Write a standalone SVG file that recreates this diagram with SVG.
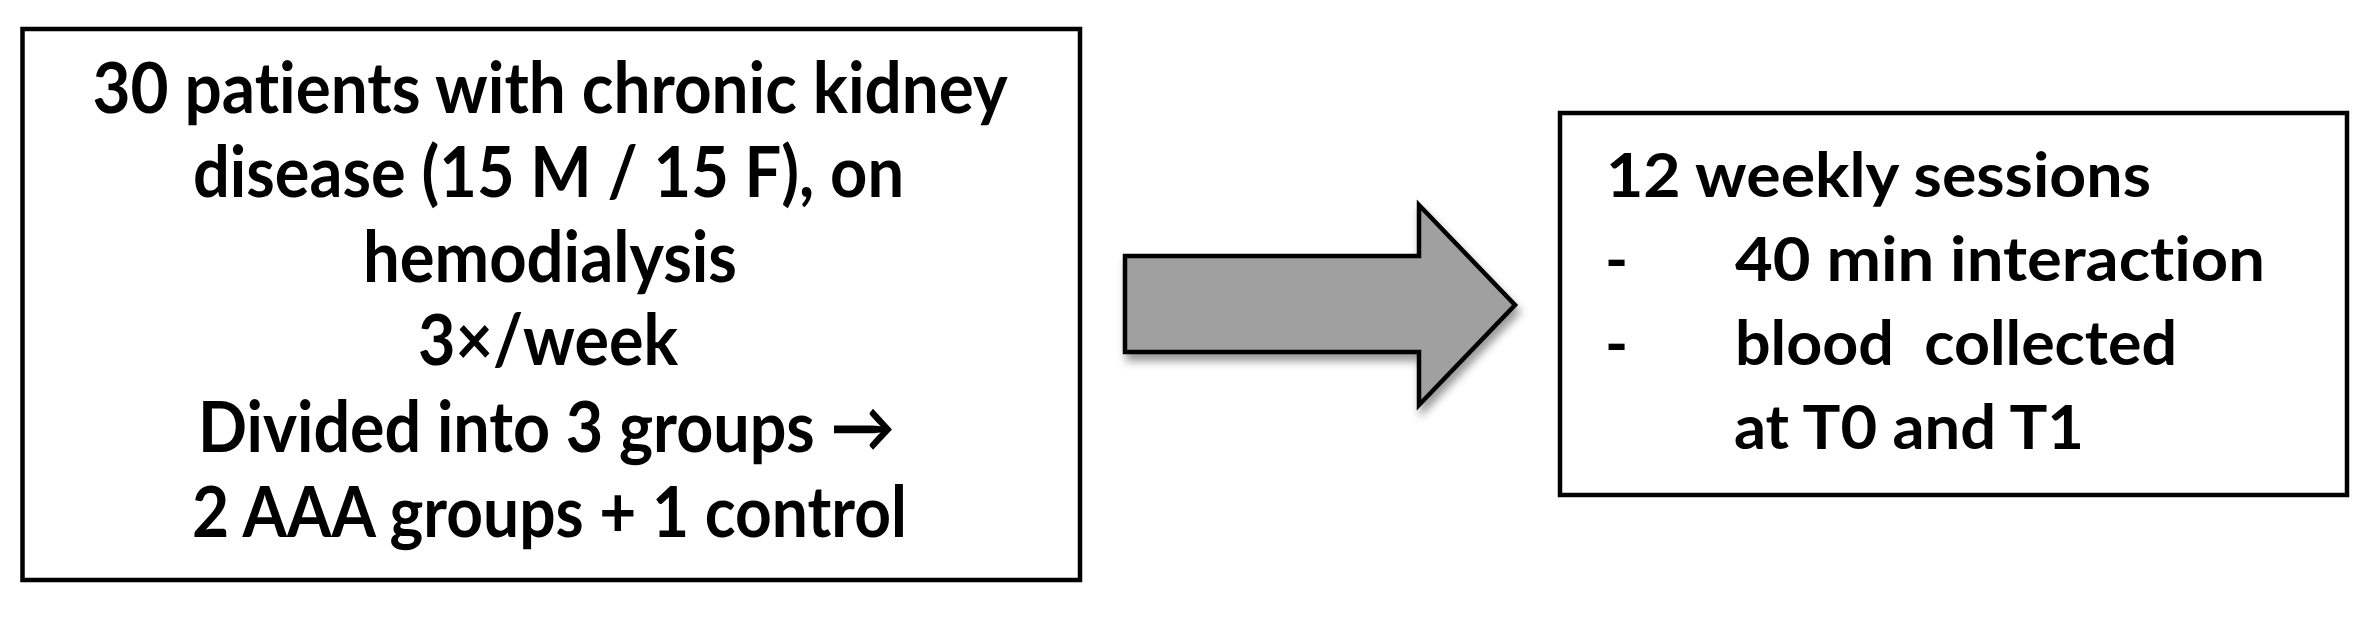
<svg xmlns="http://www.w3.org/2000/svg" width="2367" height="625" viewBox="0 0 2367 625">
<style>
.box{fill:#ffffff;stroke:#000000;stroke-width:4.5}
.t{font-family:Lato,"Open Sans","Liberation Sans",sans-serif;font-weight:bold;fill:#000000;font-variant-ligatures:none;white-space:pre}
.l{font-size:70px;text-anchor:middle}
.r{font-size:62px}
</style>
<defs>
<filter id="sh" x="-10%" y="-10%" width="130%" height="140%">
<feDropShadow dx="3" dy="7" stdDeviation="4" flood-color="#000000" flood-opacity="0.4"/>
</filter>
</defs>
<rect width="2367" height="625" fill="#ffffff"/>
<g id="node-patients">
<rect class="box" x="22.5" y="29" width="1057.5" height="551"/>
<text class="t l" x="550" y="113" textLength="915" lengthAdjust="spacingAndGlyphs">30 patients with chronic kidney</text>
<text class="t l" x="548.5" y="197" textLength="711" lengthAdjust="spacingAndGlyphs">disease (15 M / 15 F), on</text>
<text class="t l" x="550" y="282" textLength="374" lengthAdjust="spacingAndGlyphs">hemodialysis</text>
<text class="t l" x="548" y="365" textLength="260" lengthAdjust="spacingAndGlyphs">3×/week</text>
<text class="t l" x="546.5" y="452" textLength="697" lengthAdjust="spacingAndGlyphs">Divided into 3 groups →</text>
<text class="t l" x="549.5" y="537" textLength="715" lengthAdjust="spacingAndGlyphs">2 AAA groups + 1 control</text>
</g>
<g id="connectors">
<polygon points="1125,256 1419,256 1419,205 1515,305 1419,405 1419,352 1125,352" fill="#a0a0a0" stroke="#000000" stroke-width="4.5" stroke-linejoin="miter" filter="url(#sh)"/>
</g>
<g id="node-sessions">
<rect class="box" x="1560" y="113" width="787" height="382"/>
<text class="t r" x="1606" y="197" textLength="545" lengthAdjust="spacingAndGlyphs">12 weekly sessions</text>
<text class="t r" x="1605" y="281">-</text>
<text class="t r" x="1735" y="281" textLength="530" lengthAdjust="spacingAndGlyphs">40 min interaction</text>
<text class="t r" x="1605" y="365">-</text>
<text class="t r" x="1735" y="365" textLength="442" lengthAdjust="spacingAndGlyphs">blood  collected</text>
<text class="t r" x="1734" y="449" textLength="350" lengthAdjust="spacingAndGlyphs">at T0 and T1</text>
</g>
</svg>
